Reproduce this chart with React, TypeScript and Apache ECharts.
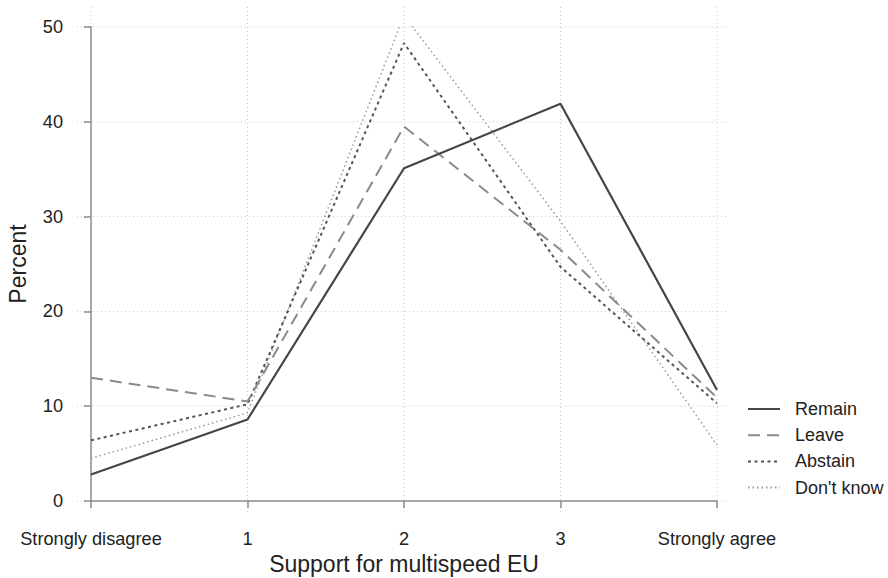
import React, { useEffect, useRef } from "react";
import * as echarts from "echarts";

const xTickLabels = ["Strongly disagree", "1", "2", "3", "Strongly agree"];
const xPositions = [0, 1, 2, 3, 4];
const yTicks = [0, 10, 20, 30, 40, 50];

const remain = [2.8, 8.6, 35.1, 41.9, 11.7];
const leave = [13.0, 10.5, 39.5, 26.5, 10.9];
const abstain = [6.4, 10.2, 48.3, 24.7, 10.3];
const dontKnow = [4.5, 9.3, 51.2, 29.5, 5.9];

const FONT = "'Liberation Sans', Arial, sans-serif";

export default function App() {
  const ref = useRef<HTMLDivElement>(null);
  useEffect(() => {
    if (!ref.current) return;
    const chart = echarts.init(ref.current, null, { renderer: "svg" });
    const pair = (arr: number[]) => arr.map((v, i) => [xPositions[i], v]);
    const gridData: number[][] = [
      ...xPositions.map((x) => [0, x]),
      ...yTicks.map((y) => [1, y]),
    ];
    chart.setOption({
      animation: false,
      backgroundColor: "#fff",
      textStyle: { fontFamily: FONT },
      grid: {
        left: 91,
        right: 171,
        top: 27,
        bottom: 77,
        containLabel: false,
        outerBoundsMode: "none",
      },
      xAxis: {
        type: "value",
        min: 0,
        max: 4,
        interval: 1,
        offset: 14,
        name: "Support for multispeed EU",
        nameLocation: "middle",
        nameGap: 36,
        nameTextStyle: { fontSize: 23, color: "#222", fontFamily: FONT },
        axisLine: { show: true, lineStyle: { color: "#8c8c8c", width: 1.5 } },
        axisTick: { show: true, length: 7, lineStyle: { color: "#8c8c8c", width: 1.5 } },
        axisLabel: {
          margin: 15,
          fontSize: 18.2,
          color: "#222",
          fontFamily: FONT,
          formatter: (v: number) => xTickLabels[Math.round(v)] ?? "",
        },
        splitLine: { show: false },
      },
      yAxis: {
        type: "value",
        min: 0,
        max: 50,
        interval: 10,
        offset: 14,
        name: "Percent",
        nameLocation: "middle",
        nameGap: 48,
        nameTextStyle: { fontSize: 23, color: "#222", fontFamily: FONT },
        axisLine: { show: true, lineStyle: { color: "#8c8c8c", width: 1.5 } },
        axisTick: { show: true, length: 7, lineStyle: { color: "#8c8c8c", width: 1.5 } },
        axisLabel: { margin: 14, fontSize: 18.2, color: "#222", fontFamily: FONT },
        splitLine: { show: false },
      },
      legend: {
        orient: "vertical",
        left: 747,
        top: 400,
        itemWidth: 32,
        itemHeight: 14,
        itemGap: 8.2,
        padding: 0,
        itemStyle: { opacity: 0 },
        textStyle: { fontSize: 18, color: "#222", fontFamily: FONT, padding: [0, 0, 0, 10] },
        data: ["Remain", "Leave", "Abstain", "Don't know"],
      },
      series: [
        {
          type: "custom",
          silent: true,
          clip: false,
          z: 0,
          data: gridData,
          renderItem: (params: any, api: any) => {
            const kind = api.value(0);
            const v = api.value(1);
            let p1, p2;
            if (kind === 0) {
              p1 = api.coord([v, 52.1]);
              p2 = api.coord([v, -1.2]);
            } else {
              p1 = api.coord([-0.09, v]);
              p2 = api.coord([4.07, v]);
            }
            return {
              type: "line",
              shape: { x1: p1[0], y1: p1[1], x2: p2[0], y2: p2[1] },
              style: { stroke: "#c4c4c4", lineWidth: 1, lineDash: [1, 3] },
            };
          },
          encode: { x: 1, y: 1 },
        },
        {
          name: "Remain",
          type: "line",
          data: pair(remain),
          symbol: "none",
          z: 5,
          color: "#454545",
          lineStyle: { color: "#454545", width: 2.2, type: "solid" },
        },
        {
          name: "Leave",
          type: "line",
          data: pair(leave),
          symbol: "none",
          z: 4,
          color: "#8a8a8a",
          lineStyle: { color: "#8a8a8a", width: 2, type: [12, 7] },
        },
        {
          name: "Abstain",
          type: "line",
          data: pair(abstain),
          symbol: "none",
          z: 3,
          color: "#555555",
          lineStyle: { color: "#555555", width: 2, type: [3, 3.5] },
        },
        {
          name: "Don't know",
          type: "line",
          data: pair(dontKnow),
          symbol: "none",
          z: 2,
          color: "#999999",
          lineStyle: { color: "#999999", width: 1.5, type: [1.5, 3] },
        },
      ],
    });
    return () => chart.dispose();
  }, []);
  return (
    <div
      ref={ref}
      style={{ position: "fixed", left: 0, top: 0, width: 888, height: 578 }}
    />
  );
}
